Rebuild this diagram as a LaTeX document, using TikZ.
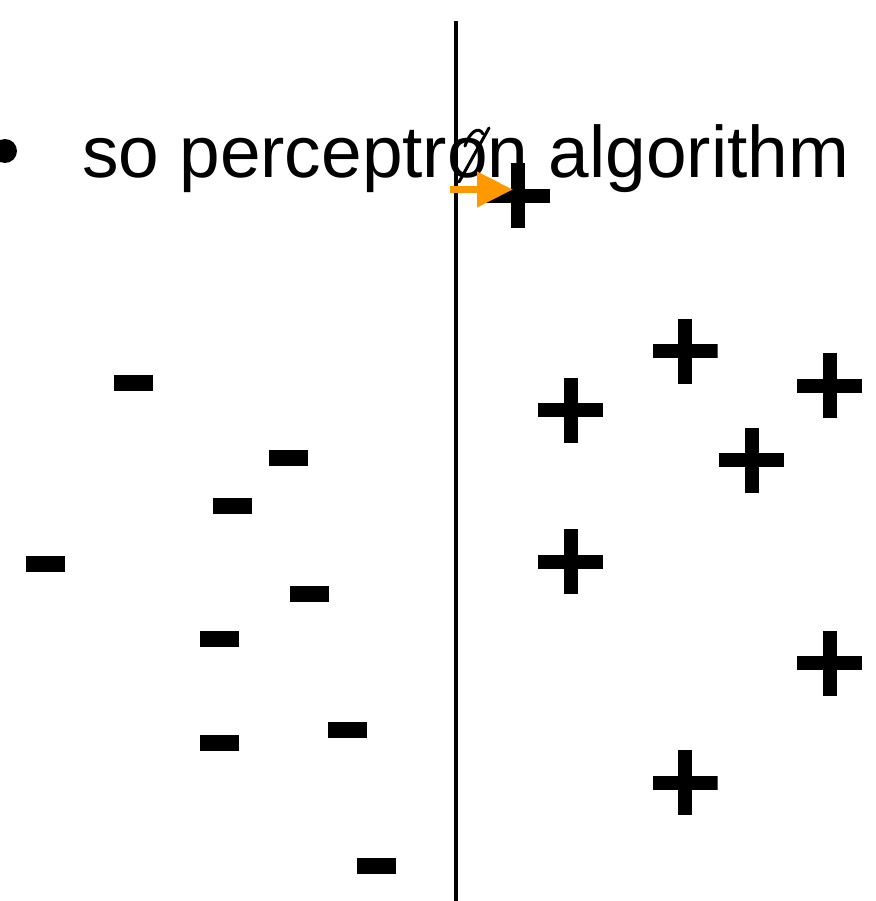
\documentclass[tikz,border=0pt]{standalone}
\usepackage{fontspec}
\setmainfont{Liberation Sans}
\usetikzlibrary{arrows.meta}
\definecolor{arrorange}{RGB}{255,153,0}
\tikzset{
  minusmark/.style={rectangle, fill=black, draw=none, inner sep=0pt, minimum width=39pt, minimum height=16pt},
  plusmark/.style={rectangle, draw=none, inner sep=0pt, minimum size=65pt,
    path picture={
      \fill ([xshift=-32.5pt,yshift=-7pt]path picture bounding box.center) rectangle ++(65pt,14pt);
      \fill ([xshift=-7pt,yshift=-32.5pt]path picture bounding box.center) rectangle ++(14pt,65pt);
    }},
  sepline/.style={draw=black, line width=3.5pt},
  headline/.style={inner sep=0pt, anchor=base west, font=\fontsize{73}{88}\selectfont},
  updatearrow/.style={draw=arrorange, line width=7pt, -{Triangle[length=36pt,width=34pt]}},
  glyphmark/.style={draw=black, line width=3pt, line cap=round}
}
\begin{document}
\begin{tikzpicture}[x=1pt,y=-1pt]
\useasboundingbox (0,0) rectangle (875,901);
% separating line
\coordinate (ltop) at (456,21);
\coordinate (lbot) at (456,901);
\draw[sepline] (ltop) -- (lbot);
% title text
\node[circle, fill=black, inner sep=0pt, minimum size=24pt] (bullet) at (5,151) {};
\node[headline] (title) at (82,178) {so perceptron algorithm};
% overlapping mark over the o
\draw[glyphmark] (489,128) -- (459,182);
\draw[glyphmark] (465,146) .. controls (470,131) and (479,126) .. (483,134);
% minus points
\node[minusmark] (m1) at (133.5,383) {};
\node[minusmark] (m2) at (288.5,458) {};
\node[minusmark] (m3) at (232.5,506) {};
\node[minusmark] (m4) at (45.5,564) {};
\node[minusmark] (m5) at (309.5,594) {};
\node[minusmark] (m6) at (219.5,639) {};
\node[minusmark] (m7) at (219.5,743) {};
\node[minusmark] (m8) at (347.5,730) {};
\node[minusmark] (m9) at (376.5,866) {};
% plus points
\node[plusmark] (p0) at (517.5,196) {};
\node[plusmark] (p1) at (570.5,410) {};
\node[plusmark] (p2) at (685,351) {};
\node[plusmark] (p3) at (829.5,385.5) {};
\node[plusmark] (p4) at (751.5,460) {};
\node[plusmark] (p5) at (570.5,561.5) {};
\node[plusmark] (p6) at (829.5,663) {};
\node[plusmark] (p7) at (685,782.5) {};
% orange arrow
\coordinate (astart) at (450,189.5);
\coordinate (atip) at (513,189.5);
\draw[updatearrow] (astart) -- (atip);
\end{tikzpicture}
\end{document}
